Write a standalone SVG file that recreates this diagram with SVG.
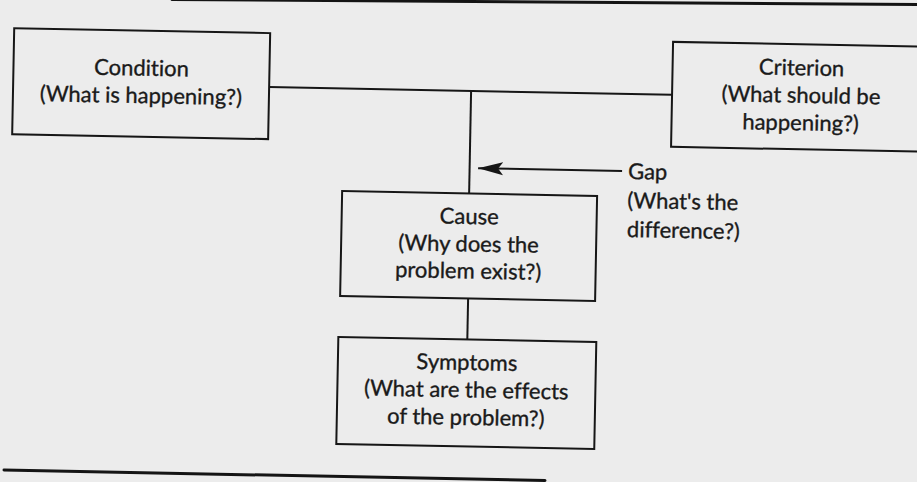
<svg xmlns="http://www.w3.org/2000/svg" width="917" height="482" viewBox="0 0 917 482">
  <style>
    .box { fill: none; stroke: #161616; stroke-width: 2; }
    .wire { fill: none; stroke: #161616; stroke-width: 2; }
    .rule { fill: none; stroke: #141414; stroke-width: 3; stroke-linecap: round; }
    .lbl { font-family: Lato, "Liberation Sans", sans-serif; font-size: 22px; fill: #1a1a1a; stroke: #1a1a1a; stroke-width: 0.35px; font-variant-ligatures: none; }
    .mid { text-anchor: middle; }
  </style>
  <defs>
    <marker id="barb" markerUnits="userSpaceOnUse" viewBox="0 0 26 14" refX="25" refY="7" markerWidth="26" markerHeight="14" orient="auto">
      <path d="M25,7 L0,0.5 L5,7 L0,13.5 Z" fill="#161616"/>
    </marker>
  </defs>

  <!-- paper -->
  <rect x="0" y="0" width="917" height="482" fill="#ececec"/>

  <!-- page rules above and below the figure -->
  <path class="rule" d="M172,-0.5 Q540,2 917,4.5"/>
  <path class="rule" d="M4,470 L545,480.5"/>

  <g transform="rotate(1.1 470 200)">
    <g id="connectors">
      <line class="wire" x1="267" y1="91" x2="670" y2="91"/>
      <line class="wire" x1="469" y1="91" x2="469" y2="193.5"/>
      <line class="wire" x1="470" y1="298.5" x2="470" y2="339.5"/>
      <line class="wire" x1="621.5" y1="168" x2="477.5" y2="168" marker-end="url(#barb)"/>
    </g>

    <g id="condition">
      <rect class="box" x="11" y="37" width="256" height="106"/>
      <text class="lbl mid" x="139" y="82">Condition</text>
      <text class="lbl mid" x="139" y="109.5">(What is happening?)</text>
    </g>

    <g id="criterion">
      <rect class="box" x="670" y="38" width="258" height="105"/>
      <text class="lbl mid" x="799" y="69">Criterion</text>
      <text class="lbl mid" x="799" y="96.5">(What should be</text>
      <text class="lbl mid" x="799" y="124">happening?)</text>
    </g>

    <g id="gap">
      <text class="lbl" x="627.5" y="176">Gap</text>
      <text class="lbl" x="627.5" y="205">(What's the</text>
      <text class="lbl" x="627.5" y="234">difference?)</text>
    </g>

    <g id="cause">
      <rect class="box" x="342" y="193.5" width="255" height="105"/>
      <text class="lbl mid" x="469.5" y="224">Cause</text>
      <text class="lbl mid" x="469.5" y="251.5">(Why does the</text>
      <text class="lbl mid" x="469.5" y="278.5">problem exist?)</text>
    </g>

    <g id="symptoms">
      <rect class="box" x="341" y="339.5" width="258" height="107"/>
      <text class="lbl mid" x="470" y="370">Symptoms</text>
      <text class="lbl mid" x="470" y="397.5">(What are the effects</text>
      <text class="lbl mid" x="470" y="425">of the problem?)</text>
    </g>
  </g>
</svg>
